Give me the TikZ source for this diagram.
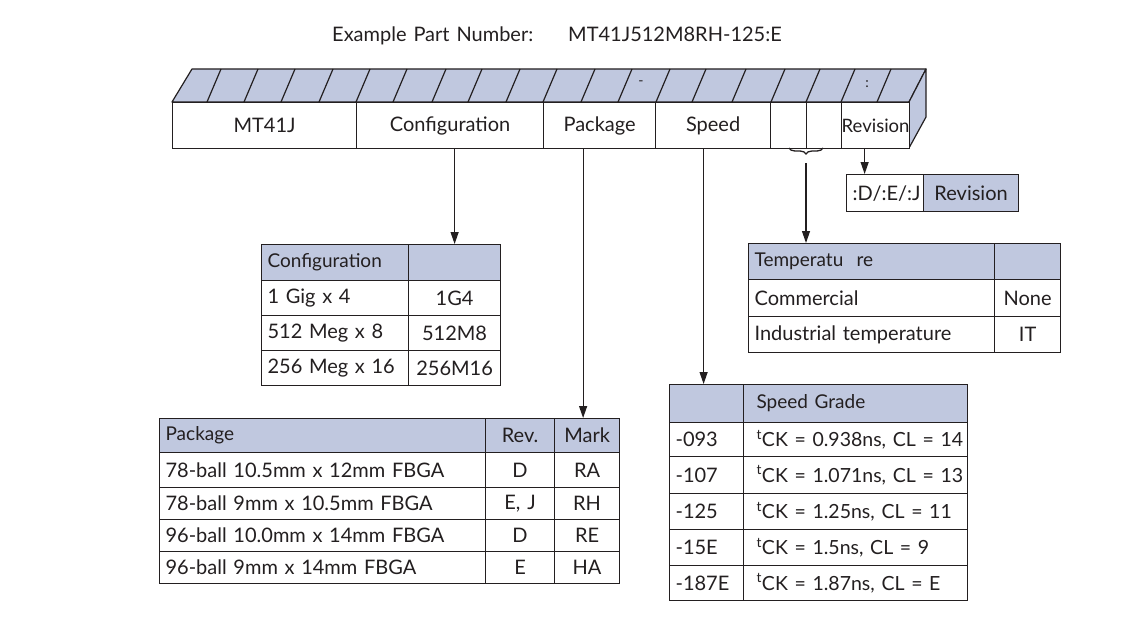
\documentclass[tikz,border=0pt]{standalone}
\usepackage{fontspec}
\setmainfont{Lato}[WordSpace=1.35]
\newfontfamily\tightfont{Lato}
\usetikzlibrary{arrows.meta,decorations.pathreplacing}
\definecolor{ink}{RGB}{35,31,32}
\definecolor{shade}{RGB}{192,200,223}
\newcommand\cellL[7]{%
  \pgfmathsetlengthmacro\tw{#4-12}%
  \node[tc, fill=#6, minimum width=#4pt, minimum height=#5pt, text width=\tw, align=left, anchor=north west] (#1) at (#2,#3) {#7};}
\newcommand\cellC[7]{%
  \node[tc, fill=#6, minimum width=#4pt, minimum height=#5pt, align=center, anchor=north west] (#1) at (#2,#3) {#7};}
\newcommand\hdf{\fontsize{19}{22}\selectfont}
\newcommand\tck[1]{\hspace*{7pt}\mbox{\tightfont\fontsize{19.5}{22}\selectfont\textsuperscript{t}CK = #1}}
\begin{document}
\begin{tikzpicture}[x=1pt,y=-1pt,
  tc/.style={draw=ink, line width=1.2pt, inner xsep=6pt, inner ysep=0pt, text=ink, font=\fontsize{20}{22}\selectfont},
  arr/.style={draw=ink, line width=1.2pt, -{Triangle[length=12pt,width=8pt]}},
  lbl/.style={text=ink, inner sep=0pt, font=\fontsize{20}{22}\selectfont}]
\useasboundingbox (0,0) rectangle (1128,626);
% title
\node[lbl, anchor=base west] (ex) at (332,42) {Example Part Number:};
\node[lbl, anchor=base west] (pn) at (568,42) {MT41J512M8RH-125:E};
% 3D bar
\filldraw[fill=shade, draw=ink, line width=1.2pt, line join=round] (172,102) -- (192,69) -- (926,69) -- (909,102) -- cycle;
\filldraw[fill=shade, draw=ink, line width=1.2pt, line join=round] (909,102) -- (926,69) -- (926,117) -- (909,148) -- cycle;
\foreach \x in {207,244,281,319,356,393,432,468,506,543,581,618,656,692,732,771,806,841,877}
  \draw[ink, line width=1.2pt] (\x,102) -- (\x+14,69);
\node[text=ink, inner sep=0pt, font=\fontsize{14}{15}\selectfont] (dash) at (641,83) {-};
\node[text=ink, inner sep=0pt, font=\fontsize{14}{15}\selectfont] (colon) at (867,84) {:};
\cellC{b1}{172}{102}{184}{46}{white}{MT41J}
\cellC{b2}{356}{102}{187}{46}{white}{Configuration}
\cellC{b3}{543}{102}{112}{46}{white}{Package}
\cellC{b4}{655}{102}{115}{46}{white}{Speed}
\cellC{b5}{770}{102}{36}{46}{white}{}
\cellC{b6}{806}{102}{35}{46}{white}{}
\node[tc, fill=white, minimum width=68pt, minimum height=46pt, inner xsep=0pt, anchor=north west, font=\fontsize{18.5}{20}\selectfont] (b7) at (841,102) {Revision};
% brace
\draw[ink, line width=1.3pt, decorate, decoration={brace, amplitude=6pt, mirror}] (789,148) -- (823,148);
\coordinate (bt) at (806,163);
% revision box
\cellC{r1}{846}{174}{77}{37}{white}{:D/:E/:J}
\cellC{r2}{923}{174}{95}{37}{shade}{Revision}
% temperature table
\cellL{t11}{748}{243}{246}{36}{shade}{\hdf Temperatu\ \ re}
\cellC{t12}{994}{243}{66}{36}{shade}{}
\cellL{t21}{748}{279}{246}{37}{white}{Commercial}
\cellC{t22}{994}{279}{66}{37}{white}{\raisebox{-4pt}{None}}
\cellL{t31}{748}{316}{246}{36}{white}{Industrial temperature}
\cellC{t32}{994}{316}{66}{36}{white}{IT}
% configuration table
\cellL{c11}{261}{244}{147}{36}{shade}{\hdf\raisebox{-3pt}{Configuration}}
\cellC{c12}{408}{244}{92}{36}{shade}{}
\cellL{c21}{261}{280}{147}{35}{white}{1 Gig x 4}
\cellC{c22}{408}{280}{92}{35}{white}{1G4}
\cellL{c31}{261}{315}{147}{35}{white}{512 Meg x 8}
\cellC{c32}{408}{315}{92}{35}{white}{512M8}
\cellL{c41}{261}{350}{147}{35}{white}{256 Meg x 16}
\cellC{c42}{408}{350}{92}{35}{white}{256M16}
% package table
\cellL{p11}{159}{418}{326}{34}{shade}{\hdf\raisebox{-4pt}{Package}}
\cellC{p12}{485}{418}{69}{34}{shade}{\raisebox{-4pt}{Rev.}}
\cellC{p13}{554}{418}{65}{34}{shade}{\raisebox{-4pt}{Mark}}
\cellL{p21}{159}{452}{326}{35}{white}{78-ball 10.5mm x 12mm FBGA}
\cellC{p22}{485}{452}{69}{35}{white}{D}
\cellC{p23}{554}{452}{65}{35}{white}{RA}
\cellL{p31}{159}{487}{326}{32}{white}{78-ball 9mm x 10.5mm FBGA}
\cellC{p32}{485}{487}{69}{32}{white}{E, J}
\cellC{p33}{554}{487}{65}{32}{white}{RH}
\cellL{p41}{159}{519}{326}{32}{white}{96-ball 10.0mm x 14mm FBGA}
\cellC{p42}{485}{519}{69}{32}{white}{D}
\cellC{p43}{554}{519}{65}{32}{white}{RE}
\cellL{p51}{159}{551}{326}{32}{white}{96-ball 9mm x 14mm FBGA}
\cellC{p52}{485}{551}{69}{32}{white}{E}
\cellC{p53}{554}{551}{65}{32}{white}{HA}
% speed table
\cellL{s11}{669}{384}{74}{38}{shade}{}
\cellL{s12}{743}{384}{224}{38}{shade}{\hdf\hspace*{7pt}Speed Grade}
\cellL{s21}{669}{422}{74}{34}{white}{-093}
\cellL{s22}{743}{422}{224}{34}{white}{\tck{0.938ns, CL = 14}}
\cellL{s31}{669}{456}{74}{37}{white}{-107}
\cellL{s32}{743}{456}{224}{37}{white}{\tck{1.071ns, CL = 13}}
\cellL{s41}{669}{493}{74}{36}{white}{-125}
\cellL{s42}{743}{493}{224}{36}{white}{\tck{1.25ns, CL = 11}}
\cellL{s51}{669}{529}{74}{36}{white}{-15E}
\cellL{s52}{743}{529}{224}{36}{white}{\tck{1.5ns, CL = 9}}
\cellL{s61}{669}{565}{74}{35}{white}{-187E}
\cellL{s62}{743}{565}{224}{35}{white}{\tck{1.87ns, CL = E}}
% connectors
\draw[arr] (c12.north |- b2.south) -- (c12.north);
\draw[arr] ([xshift=-4pt]p13.north |- b3.south) -- ([xshift=-4pt]p13.north);
\draw[arr] ([xshift=-3pt]s11.north |- b4.south) -- ([xshift=-3pt]s11.north);
\draw[arr] (bt) -- (bt |- t11.north);
\draw[arr] ([xshift=-22pt]r1.north |- b7.south) -- ([xshift=-22pt]r1.north);
\end{tikzpicture}
\end{document}
